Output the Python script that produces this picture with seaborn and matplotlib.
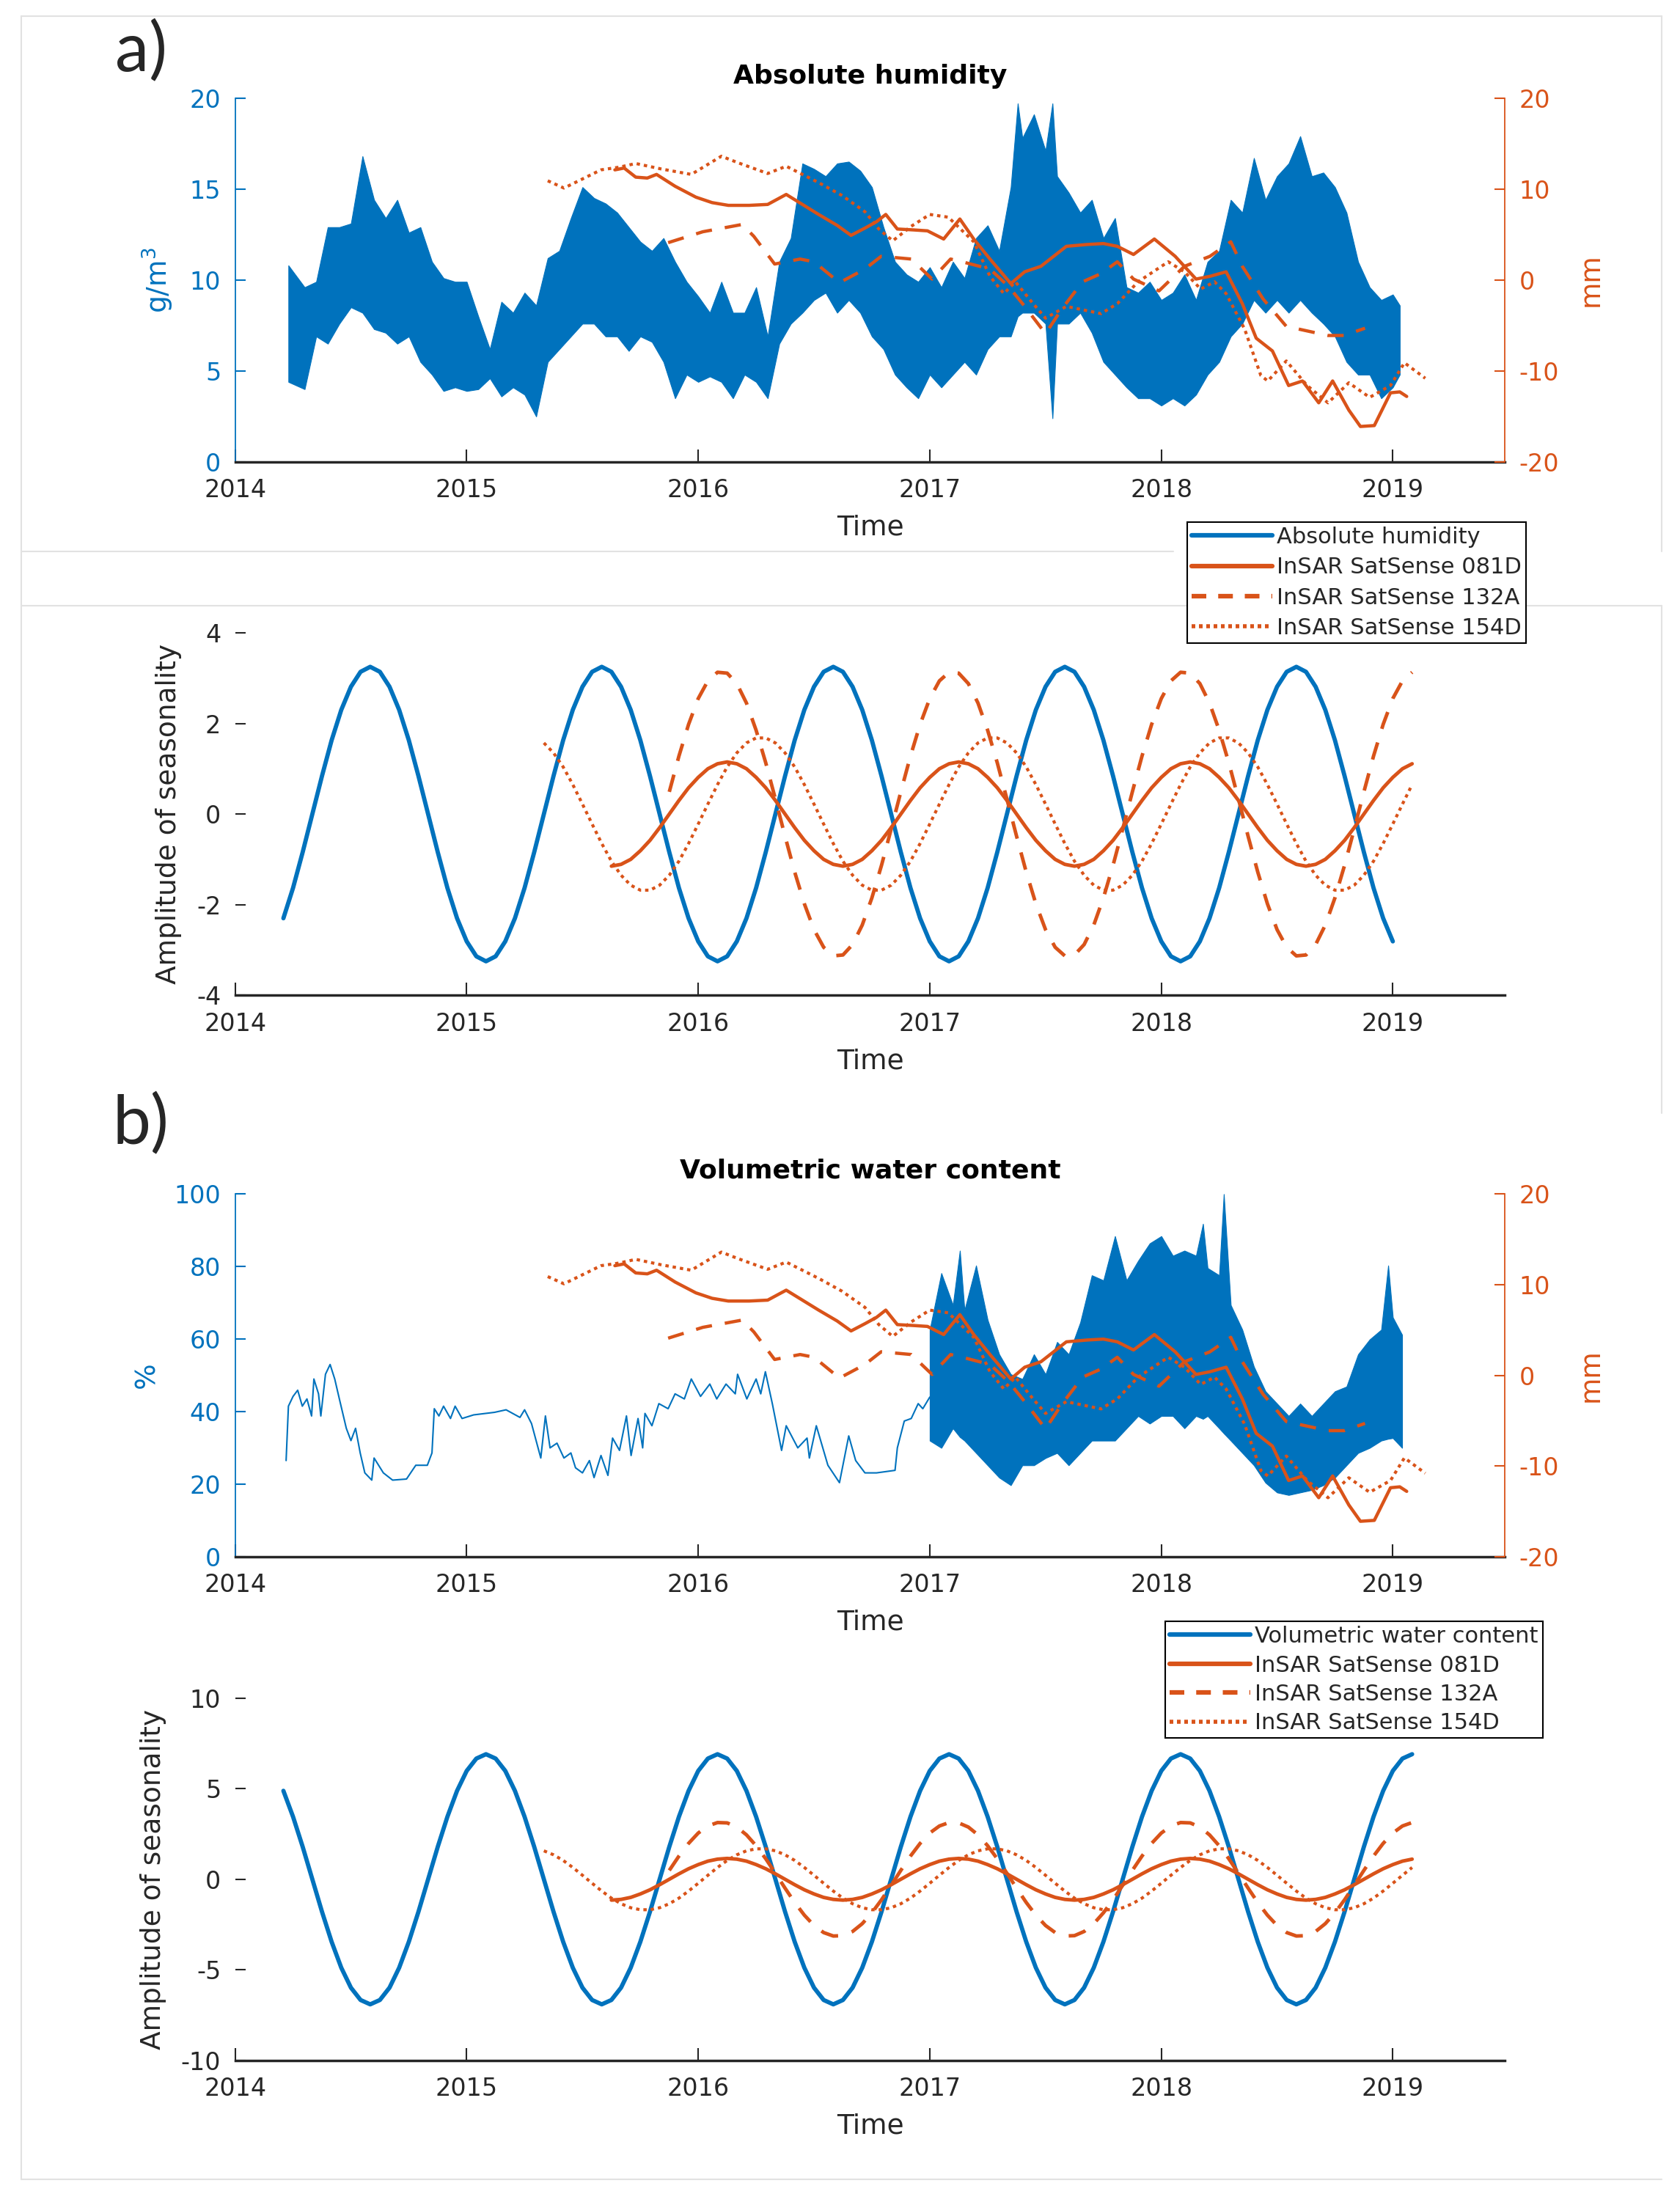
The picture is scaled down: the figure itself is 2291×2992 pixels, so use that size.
import numpy as np
import pandas as pd
import seaborn as sns
import matplotlib.pyplot as plt
from matplotlib.lines import Line2D

BLUE = '#0072BD'
ORANGE = '#D95319'
DARK = '#262626'

# ---------------- InSAR displacement (mm), same three tracks in a) and b)
insar_081d_t = [
    2015.64, 2015.68, 2015.73, 2015.78, 2015.82, 2015.90, 2015.99, 2016.06, 2016.13, 2016.22,
    2016.30, 2016.38, 2016.45, 2016.52, 2016.60, 2016.66, 2016.72, 2016.77, 2016.81, 2016.86,
    2016.93, 2016.99, 2017.06, 2017.13, 2017.19, 2017.26, 2017.35, 2017.41, 2017.48, 2017.54,
    2017.59, 2017.68, 2017.75, 2017.81, 2017.88, 2017.97, 2018.06, 2018.15, 2018.21, 2018.28,
    2018.35, 2018.41, 2018.48, 2018.55, 2018.61, 2018.68, 2018.74, 2018.81, 2018.86, 2018.92,
    2018.99, 2019.03, 2019.06]
insar_081d_mm = [
    12.1, 12.3, 11.3, 11.2, 11.6, 10.3, 9.1, 8.5, 8.2, 8.2,
    8.3, 9.4, 8.3, 7.2, 6.0, 4.9, 5.7, 6.4, 7.2, 5.6,
    5.5, 5.4, 4.5, 6.7, 4.5, 2.3, -0.4, 0.9, 1.5, 2.7,
    3.7, 3.9, 4.0, 3.7, 2.8, 4.5, 2.6, 0.1, 0.4, 0.9,
    -2.6, -6.4, -7.8, -11.6, -11.1, -13.5, -11.1, -14.3, -16.1, -16.0,
    -12.4, -12.3, -12.8]

insar_132a_t = [
    2015.87, 2016.02, 2016.19, 2016.24, 2016.33, 2016.44, 2016.50, 2016.61, 2016.72, 2016.79,
    2016.92, 2017.01, 2017.09, 2017.14, 2017.26, 2017.34, 2017.41, 2017.50, 2017.57, 2017.66,
    2017.74, 2017.81, 2017.88, 2017.99, 2018.10, 2018.21, 2018.30, 2018.35, 2018.44, 2018.54,
    2018.63, 2018.72, 2018.79, 2018.88]
insar_132a_mm = [
    4.1, 5.3, 6.1, 4.8, 1.75, 2.3, 2.0, -0.3, 1.2, 2.6,
    2.3, 0.1, 2.3, 2.0, 1.2, -0.7, -2.9, -5.9, -3.2, -0.2,
    0.7, 2.0, 0.1, -1.2, 1.5, 2.6, 4.2, 1.5, -2.1, -5.1,
    -5.6, -6.1, -6.1, -5.3]

insar_154d_t = [
    2015.35, 2015.42, 2015.50, 2015.58, 2015.66, 2015.73, 2015.84, 2015.97, 2016.10, 2016.17,
    2016.30, 2016.38, 2016.52, 2016.62, 2016.72, 2016.78, 2016.84, 2016.92, 2017.00, 2017.08,
    2017.19, 2017.26, 2017.32, 2017.37, 2017.44, 2017.50, 2017.59, 2017.74, 2017.81, 2017.90,
    2018.03, 2018.10, 2018.17, 2018.23, 2018.28, 2018.36, 2018.43, 2018.46, 2018.54, 2018.63,
    2018.72, 2018.81, 2018.90, 2018.99, 2019.05, 2019.14]
insar_154d_mm = [
    10.9, 10.1, 11.1, 12.1, 12.4, 12.8, 12.2, 11.6, 13.6, 12.9,
    11.7, 12.5, 10.7, 9.3, 7.5, 5.6, 4.3, 5.9, 7.2, 6.9,
    4.2, 0.4, -1.5, -0.2, -2.4, -4.2, -2.9, -3.7, -2.6, -0.2,
    2.0, 0.9, -1.0, -0.2, -1.5, -5.4, -10.5, -11.1, -8.9, -11.6,
    -13.5, -11.3, -12.9, -11.6, -9.1, -10.8]

# ---------------- absolute humidity (g/m3): daily scatter read as low / high envelope
ah_t = [
    2014.23, 2014.30, 2014.35, 2014.40, 2014.45, 2014.50, 2014.55, 2014.60, 2014.65, 2014.70,
    2014.75, 2014.80, 2014.85, 2014.90, 2014.95, 2015.00, 2015.05, 2015.10, 2015.15, 2015.20,
    2015.25, 2015.30, 2015.35, 2015.40, 2015.45, 2015.50, 2015.55, 2015.60, 2015.65, 2015.70,
    2015.75, 2015.80, 2015.85, 2015.90, 2015.95, 2016.00, 2016.05, 2016.10, 2016.15, 2016.20,
    2016.25, 2016.30, 2016.35, 2016.40, 2016.45, 2016.50, 2016.55, 2016.60, 2016.65, 2016.70,
    2016.75, 2016.80, 2016.85, 2016.90, 2016.95, 2017.00, 2017.05, 2017.10, 2017.15, 2017.20,
    2017.25, 2017.30, 2017.35, 2017.38, 2017.40, 2017.45, 2017.50, 2017.53, 2017.55, 2017.60,
    2017.65, 2017.70, 2017.75, 2017.80, 2017.85, 2017.90, 2017.95, 2018.00, 2018.05, 2018.10,
    2018.15, 2018.20, 2018.25, 2018.30, 2018.35, 2018.40, 2018.45, 2018.50, 2018.55, 2018.60,
    2018.65, 2018.70, 2018.75, 2018.80, 2018.85, 2018.90, 2018.95, 2019.00, 2019.03]
ah_hi = [
    10.8, 9.6, 9.9, 12.9, 12.9, 13.1, 16.8, 14.4, 13.4, 14.4,
    12.6, 12.9, 11.0, 10.1, 9.9, 9.9, 8.0, 6.2, 8.8, 8.2,
    9.3, 8.6, 11.2, 11.6, 13.4, 15.1, 14.5, 14.2, 13.7, 12.9,
    12.1, 11.6, 12.3, 11.0, 9.9, 9.1, 8.2, 9.9, 8.2, 8.2,
    9.6, 6.9, 11.0, 12.3, 16.4, 16.1, 15.7, 16.4, 16.5, 16.0,
    15.1, 12.9, 11.0, 10.3, 9.9, 10.7, 9.6, 11.0, 10.1, 12.3,
    13.0, 11.6, 15.1, 19.7, 17.8, 19.1, 17.1, 19.7, 15.7, 14.8,
    13.7, 14.4, 12.3, 13.4, 9.6, 9.3, 9.9, 8.9, 9.3, 10.3,
    8.9, 11.0, 11.6, 14.4, 13.7, 16.7, 14.4, 15.7, 16.4, 17.9,
    15.7, 15.9, 15.1, 13.7, 11.0, 9.6, 8.9, 9.2, 8.6]
ah_lo = [
    4.4, 4.0, 6.9, 6.5, 7.6, 8.5, 8.2, 7.3, 7.1, 6.5,
    6.9, 5.5, 4.8, 3.9, 4.1, 3.9, 4.0, 4.6, 3.6, 4.1,
    3.7, 2.5, 5.5, 6.2, 6.9, 7.6, 7.6, 6.9, 6.9, 6.1,
    6.9, 6.6, 5.5, 3.5, 4.8, 4.4, 4.7, 4.4, 3.5, 4.8,
    4.4, 3.5, 6.5, 7.6, 8.2, 8.9, 9.3, 8.2, 8.9, 8.2,
    6.9, 6.2, 4.8, 4.1, 3.5, 4.8, 4.1, 4.8, 5.5, 4.8,
    6.2, 6.9, 6.9, 8.0, 8.2, 8.2, 7.6, 2.4, 7.6, 7.6,
    8.2, 7.1, 5.5, 4.8, 4.1, 3.5, 3.5, 3.1, 3.5, 3.1,
    3.7, 4.8, 5.5, 6.9, 7.6, 8.9, 8.2, 8.9, 8.2, 8.9,
    8.2, 7.6, 6.9, 5.5, 4.8, 4.8, 3.5, 4.1, 4.8]

# ---------------- volumetric water content (%): thin line until 2017, dense band after
vwc_t = [
    2014.22, 2014.23, 2014.25, 2014.27, 2014.29, 2014.31, 2014.33, 2014.34, 2014.36, 2014.37,
    2014.39, 2014.41, 2014.43, 2014.45, 2014.48, 2014.50, 2014.52, 2014.54, 2014.56, 2014.59,
    2014.60, 2014.64, 2014.68, 2014.74, 2014.78, 2014.83, 2014.85, 2014.86, 2014.88, 2014.90,
    2014.93, 2014.95, 2014.98, 2015.03, 2015.12, 2015.17, 2015.23, 2015.25, 2015.28, 2015.32,
    2015.34, 2015.36, 2015.39, 2015.42, 2015.45, 2015.47, 2015.50, 2015.53, 2015.55, 2015.58,
    2015.61, 2015.63, 2015.66, 2015.69, 2015.71, 2015.74, 2015.76, 2015.77, 2015.80, 2015.83,
    2015.87, 2015.90, 2015.94, 2015.97, 2016.01, 2016.05, 2016.08, 2016.12, 2016.16, 2016.17,
    2016.21, 2016.25, 2016.27, 2016.29, 2016.32, 2016.36, 2016.38, 2016.43, 2016.47, 2016.48,
    2016.51, 2016.56, 2016.61, 2016.65, 2016.68, 2016.72, 2016.77, 2016.85, 2016.86, 2016.89,
    2016.92, 2016.95, 2016.97, 2017.00]
vwc_v = [
    26.5, 41.5, 44.2, 45.9, 41.5, 43.5, 38.8, 49.0, 44.9, 38.8,
    50.3, 53.0, 49.0, 43.5, 35.4, 32.0, 35.4, 28.6, 23.1, 21.1,
    27.2, 23.1, 21.1, 21.4, 25.2, 25.2, 28.6, 40.8, 38.8, 41.5,
    38.1, 41.5, 38.1, 39.1, 39.8, 40.5, 38.4, 40.5, 36.7, 27.2,
    38.8, 30.0, 31.3, 27.2, 28.6, 24.5, 23.1, 26.5, 21.8, 27.9,
    22.4, 32.7, 29.3, 38.8, 27.9, 38.1, 30.0, 39.5, 36.1, 42.2,
    40.8, 44.9, 43.5, 49.0, 44.2, 47.6, 43.5, 47.6, 44.9, 50.3,
    43.5, 49.0, 44.9, 51.0, 42.2, 29.3, 36.1, 30.0, 32.7, 27.2,
    36.1, 25.2, 20.4, 33.3, 26.5, 23.1, 23.1, 23.8, 30.0, 37.4,
    38.1, 42.2, 40.8, 44.0]

vwc_band_t = [
    2017.00, 2017.05, 2017.10, 2017.13, 2017.15, 2017.20, 2017.25, 2017.30, 2017.35, 2017.40,
    2017.45, 2017.50, 2017.55, 2017.60, 2017.65, 2017.70, 2017.75, 2017.80, 2017.85, 2017.90,
    2017.95, 2018.00, 2018.05, 2018.10, 2018.15, 2018.18, 2018.20, 2018.25, 2018.27, 2018.30,
    2018.35, 2018.40, 2018.45, 2018.50, 2018.55, 2018.60, 2018.65, 2018.70, 2018.75, 2018.80,
    2018.85, 2018.90, 2018.95, 2018.98, 2019.00, 2019.04]
vwc_band_hi = [
    62.6, 78.2, 69.4, 84.4, 68.0, 80.3, 65.3, 55.8, 50.3, 49.0,
    55.8, 50.3, 59.2, 55.8, 64.6, 77.6, 76.2, 88.4, 76.2, 81.6,
    86.4, 88.4, 83.0, 84.4, 83.0, 91.8, 79.6, 77.6, 100.0, 69.4,
    62.6, 52.4, 45.6, 42.2, 38.8, 42.2, 38.8, 42.2, 45.6, 46.9,
    55.8, 59.9, 62.6, 80.3, 66.0, 61.2]
vwc_band_lo = [
    32.0, 30.0, 35.4, 33.0, 32.0, 28.6, 25.2, 21.8, 19.7, 25.2,
    25.2, 27.2, 28.6, 25.2, 28.6, 32.0, 32.0, 32.0, 35.4, 38.8,
    36.7, 38.8, 38.8, 35.4, 38.8, 38.0, 38.8, 35.4, 34.0, 32.0,
    28.6, 25.2, 20.4, 17.7, 17.0, 17.7, 18.4, 19.7, 21.8, 25.2,
    28.6, 30.0, 32.0, 32.5, 32.7, 30.0]

# ---------------- amplitude of seasonality, read every half month
ah_season_start = 2014.2083
ah_season = [
    -2.30, -1.63, -0.84, 0.00, 0.84, 1.63, 2.30, 2.81, 3.14, 3.25, 3.14, 2.81,
    2.30, 1.63, 0.84, 0.00, -0.84, -1.63, -2.30, -2.81, -3.14, -3.25, -3.14, -2.81,
    -2.30, -1.63, -0.84, 0.00, 0.84, 1.63, 2.30, 2.81, 3.14, 3.25, 3.14, 2.81,
    2.30, 1.63, 0.84, 0.00, -0.84, -1.63, -2.30, -2.81, -3.14, -3.25, -3.14, -2.81,
    -2.30, -1.63, -0.84, 0.00, 0.84, 1.63, 2.30, 2.81, 3.14, 3.25, 3.14, 2.81,
    2.30, 1.63, 0.84, 0.00, -0.84, -1.63, -2.30, -2.81, -3.14, -3.25, -3.14, -2.81,
    -2.30, -1.63, -0.84, 0.00, 0.84, 1.63, 2.30, 2.81, 3.14, 3.25, 3.14, 2.81,
    2.30, 1.63, 0.84, 0.00, -0.84, -1.63, -2.30, -2.81, -3.14, -3.25, -3.14, -2.81,
    -2.30, -1.63, -0.84, 0.00, 0.84, 1.63, 2.30, 2.81, 3.14, 3.25, 3.14, 2.81,
    2.30, 1.63, 0.84, 0.00, -0.84, -1.63, -2.30, -2.81]

vwc_season_start = 2014.2083
vwc_season = [
    4.88, 3.45, 1.79, 0.00, -1.79, -3.45, -4.88, -5.98, -6.66, -6.90, -6.66, -5.98,
    -4.88, -3.45, -1.79, 0.00, 1.79, 3.45, 4.88, 5.98, 6.66, 6.90, 6.66, 5.98,
    4.88, 3.45, 1.79, 0.00, -1.79, -3.45, -4.88, -5.98, -6.66, -6.90, -6.66, -5.98,
    -4.88, -3.45, -1.79, 0.00, 1.79, 3.45, 4.88, 5.98, 6.66, 6.90, 6.66, 5.98,
    4.88, 3.45, 1.79, 0.00, -1.79, -3.45, -4.88, -5.98, -6.66, -6.90, -6.66, -5.98,
    -4.88, -3.45, -1.79, 0.00, 1.79, 3.45, 4.88, 5.98, 6.66, 6.90, 6.66, 5.98,
    4.88, 3.45, 1.79, 0.00, -1.79, -3.45, -4.88, -5.98, -6.66, -6.90, -6.66, -5.98,
    -4.88, -3.45, -1.79, 0.00, 1.79, 3.45, 4.88, 5.98, 6.66, 6.90, 6.66, 5.98,
    4.88, 3.45, 1.79, 0.00, -1.79, -3.45, -4.88, -5.98, -6.66, -6.90, -6.66, -5.98,
    -4.88, -3.45, -1.79, 0.00, 1.79, 3.45, 4.88, 5.98, 6.66, 6.90]

s081d_start = 2015.625
s081d = [
    -1.15, -1.11, -1.00, -0.81, -0.58, -0.30, 0.00, 0.30, 0.58, 0.81, 1.00, 1.11,
    1.15, 1.11, 1.00, 0.81, 0.58, 0.30, 0.00, -0.30, -0.58, -0.81, -1.00, -1.11,
    -1.15, -1.11, -1.00, -0.81, -0.58, -0.30, 0.00, 0.30, 0.58, 0.81, 1.00, 1.11,
    1.15, 1.11, 1.00, 0.81, 0.58, 0.30, 0.00, -0.30, -0.58, -0.81, -1.00, -1.11,
    -1.15, -1.11, -1.00, -0.81, -0.58, -0.30, 0.00, 0.30, 0.58, 0.81, 1.00, 1.11,
    1.15, 1.11, 1.00, 0.81, 0.58, 0.30, 0.00, -0.30, -0.58, -0.81, -1.00, -1.11,
    -1.15, -1.11, -1.00, -0.81, -0.58, -0.30, 0.00, 0.30, 0.58, 0.81, 1.00, 1.11]

s132a_start = 2015.875
s132a = [
    0.49, 1.28, 1.98, 2.55, 2.94, 3.13, 3.11, 2.88, 2.45, 1.85, 1.13, 0.33,
    -0.49, -1.28, -1.98, -2.55, -2.94, -3.13, -3.11, -2.88, -2.45, -1.85, -1.13, -0.33,
    0.49, 1.28, 1.98, 2.55, 2.94, 3.13, 3.11, 2.88, 2.45, 1.85, 1.13, 0.33,
    -0.49, -1.28, -1.98, -2.55, -2.94, -3.13, -3.11, -2.88, -2.45, -1.85, -1.13, -0.33,
    0.49, 1.28, 1.98, 2.55, 2.94, 3.13, 3.11, 2.88, 2.45, 1.85, 1.13, 0.33,
    -0.49, -1.28, -1.98, -2.55, -2.94, -3.13, -3.11, -2.88, -2.45, -1.85, -1.13, -0.33,
    0.49, 1.28, 1.98, 2.55, 2.94, 3.13]

s154d_start = 2015.3333
s154d = [
    1.57, 1.35, 1.04, 0.65, 0.22, -0.22, -0.65, -1.04, -1.35, -1.57, -1.68, -1.68,
    -1.57, -1.35, -1.04, -0.65, -0.22, 0.22, 0.65, 1.04, 1.35, 1.57, 1.68, 1.68,
    1.57, 1.35, 1.04, 0.65, 0.22, -0.22, -0.65, -1.04, -1.35, -1.57, -1.68, -1.68,
    -1.57, -1.35, -1.04, -0.65, -0.22, 0.22, 0.65, 1.04, 1.35, 1.57, 1.68, 1.68,
    1.57, 1.35, 1.04, 0.65, 0.22, -0.22, -0.65, -1.04, -1.35, -1.57, -1.68, -1.68,
    -1.57, -1.35, -1.04, -0.65, -0.22, 0.22, 0.65, 1.04, 1.35, 1.57, 1.68, 1.68,
    1.57, 1.35, 1.04, 0.65, 0.22, -0.22, -0.65, -1.04, -1.35, -1.57, -1.68, -1.68,
    -1.57, -1.35, -1.04, -0.65, -0.22, 0.22, 0.65]

insar_labels = ['InSAR SatSense 081D', 'InSAR SatSense 132A', 'InSAR SatSense 154D']

DASH = (0, (5, 4))
DOT = (0, (1.1, 1.3))


def half_month(start, vals):
    return start + np.arange(len(vals)) / 24.0


sns.set_theme(style="white")
plt.rcParams['font.family'] = ['DejaVu Sans']
plt.rcParams['axes.unicode_minus'] = False

W, H = 2291, 2992
fig = plt.figure(figsize=(W / 100, H / 100), dpi=100)


def rect(top, bottom):
    return [320.7 / W, 1 - bottom / H, 1731.5 / W, (bottom - top) / H]


def base_axes(ax, ylim, yticks, ycolor, left_spine=True):
    ax.set_xlim(2014, 2019.484)
    ax.set_xticks(range(2014, 2020))
    ax.set_ylim(*ylim)
    ax.set_yticks(yticks)
    ax.grid(False)
    ax.spines['top'].set_visible(False)
    ax.spines['right'].set_visible(False)
    ax.spines['left'].set_visible(left_spine)
    ax.spines['left'].set_color(ycolor)
    ax.spines['left'].set_linewidth(1.3)
    ax.spines['bottom'].set_color(DARK)
    ax.spines['bottom'].set_linewidth(2.5)
    ax.tick_params(axis='x', direction='in', length=12, width=1.5, color=DARK,
                   labelcolor=DARK, labelsize=24, pad=16, bottom=True)
    ax.tick_params(axis='y', direction='in', length=10, width=1.5, color=ycolor,
                   labelcolor=ycolor, labelsize=24, pad=14, left=True)
    ax.set_xlabel('Time', fontsize=27, color=DARK, labelpad=12)


def right_axis(ax):
    ax2 = ax.twinx()
    ax2.set_ylim(-20, 20)
    ax2.set_yticks([-20, -10, 0, 10, 20])
    ax2.grid(False)
    for s in ['top', 'left', 'bottom']:
        ax2.spines[s].set_visible(False)
    ax2.spines['right'].set_color(ORANGE)
    ax2.spines['right'].set_linewidth(1.3)
    ax2.tick_params(axis='y', direction='in', length=10, width=1.5, color=ORANGE,
                    labelcolor=ORANGE, labelsize=24, pad=14, right=True)
    ax2.set_ylabel('mm', fontsize=27, color=ORANGE, labelpad=18)
    return ax2


def draw_insar(ax2):
    sns.lineplot(x=insar_081d_t, y=insar_081d_mm, ax=ax2, color=ORANGE, linewidth=3.2,
                 estimator=None, sort=False)
    sns.lineplot(x=insar_132a_t, y=insar_132a_mm, ax=ax2, color=ORANGE, linewidth=3.2,
                 linestyle=DASH, estimator=None, sort=False)
    sns.lineplot(x=insar_154d_t, y=insar_154d_mm, ax=ax2, color=ORANGE, linewidth=3.0,
                 linestyle=DOT, estimator=None, sort=False)
    ax2.set_xlim(2014, 2019.484)


def draw_seasons(ax):
    sns.lineplot(x=half_month(s081d_start, s081d), y=s081d, ax=ax, color=ORANGE,
                 linewidth=3.5, estimator=None, sort=False)
    sns.lineplot(x=half_month(s132a_start, s132a), y=s132a, ax=ax, color=ORANGE,
                 linewidth=3.5, linestyle=DASH, estimator=None, sort=False)
    sns.lineplot(x=half_month(s154d_start, s154d), y=s154d, ax=ax, color=ORANGE,
                 linewidth=3.0, linestyle=DOT, estimator=None, sort=False)


# ---- a) top: absolute humidity + InSAR
ax1 = fig.add_axes(rect(133.6, 630))
ax1.fill_between(ah_t, ah_lo, ah_hi, color=BLUE, linewidth=0.8)
base_axes(ax1, (0, 20), [0, 5, 10, 15, 20], BLUE)
ax1.set_ylabel('g/m$^3$', fontsize=27, color=BLUE, labelpad=14)
ax1.set_title('Absolute humidity', fontsize=26, fontweight='bold', color='black', pad=14)
draw_insar(right_axis(ax1))

# ---- a) bottom: seasonality
ax2 = fig.add_axes(rect(863, 1357.3))
sns.lineplot(x=half_month(ah_season_start, ah_season), y=ah_season, ax=ax2, color=BLUE,
             linewidth=4.2, estimator=None, sort=False)
draw_seasons(ax2)
base_axes(ax2, (-4, 4), [-4, -2, 0, 2, 4], DARK, left_spine=False)
ax2.set_ylabel('Amplitude of seasonality', fontsize=27, color=DARK, labelpad=14)

# ---- b) top: volumetric water content + InSAR
ax3 = fig.add_axes(rect(1628.4, 2122.8))
sns.lineplot(x=vwc_t, y=vwc_v, ax=ax3, color=BLUE, linewidth=1.5, estimator=None, sort=False)
ax3.fill_between(vwc_band_t, vwc_band_lo, vwc_band_hi, color=BLUE, linewidth=0.8)
base_axes(ax3, (0, 100), [0, 20, 40, 60, 80, 100], BLUE)
ax3.set_ylabel('%', fontsize=27, color=BLUE, labelpad=14)
ax3.set_title('Volumetric water content', fontsize=26, fontweight='bold', color='black', pad=16)
draw_insar(right_axis(ax3))

# ---- b) bottom: seasonality
ax4 = fig.add_axes(rect(2315.6, 2810))
sns.lineplot(x=half_month(vwc_season_start, vwc_season), y=vwc_season, ax=ax4, color=BLUE,
             linewidth=4.2, estimator=None, sort=False)
draw_seasons(ax4)
base_axes(ax4, (-10, 10), [-10, -5, 0, 5, 10], DARK, left_spine=False)
ax4.set_ylabel('Amplitude of seasonality', fontsize=27, color=DARK, labelpad=14)

# ---- legends
def handles():
    return [Line2D([], [], color=BLUE, lw=4.5),
            Line2D([], [], color=ORANGE, lw=4.5),
            Line2D([], [], color=ORANGE, lw=4.5, linestyle=(0, (3.2, 2.6))),
            Line2D([], [], color=ORANGE, lw=4.0, linestyle=(0, (0.9, 0.9)))]


leg_kw = dict(loc='upper right', fontsize=22, frameon=True, fancybox=False,
              edgecolor='black', framealpha=1, handlelength=3.6, handletextpad=0.2,
              borderpad=0.2, borderaxespad=0)
leg1 = fig.legend(handles(), ['Absolute humidity'] + insar_labels, labelspacing=0.40,
                  bbox_to_anchor=(2081 / W, 1 - 712 / H), **leg_kw)
leg2 = fig.legend(handles(), ['Volumetric water content'] + insar_labels, labelspacing=0.34,
                  bbox_to_anchor=(2104 / W, 1 - 2211 / H), **leg_kw)
for lg in (leg1, leg2):
    lg.get_frame().set_linewidth(1.5)
    lg.set_zorder(10)

# ---- panel letters and light frame lines of the pasted panels
fig.text(192 / W, 1 - 97 / H, 'a)', fontsize=67, family=['Lato', 'DejaVu Sans'],
         ha='center', va='baseline')
fig.text(192 / W, 1 - 1560 / H, 'b)', fontsize=67, family=['Lato', 'DejaVu Sans'],
         ha='center', va='baseline')

frame_lines = [((29, 22), (2266, 22)), ((29, 752), (1600, 752)), ((2266, 22), (2266, 752)),
               ((29, 826), (2266, 826)), ((2266, 826), (2266, 1518)),
               ((29, 22), (29, 2972)), ((29, 2972), (2266, 2972))]
for (x0, y0), (x1, y1) in frame_lines:
    fig.add_artist(Line2D([x0 / W, x1 / W], [1 - y0 / H, 1 - y1 / H],
                          transform=fig.transFigure, color='#e2e2e2', lw=1.5, zorder=0))

fig.savefig('out.png', dpi=100, facecolor='white')
